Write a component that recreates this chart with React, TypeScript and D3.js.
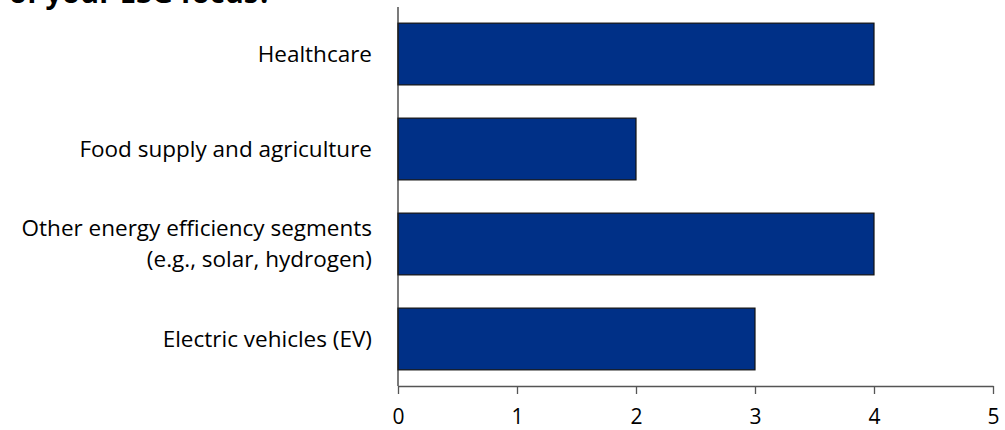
import React, { useEffect, useRef } from 'react'
import * as d3 from 'd3'

const categories = [
  'Healthcare',
  'Food supply and agriculture',
  'Other energy efficiency segments|(e.g., solar, hydrogen)',
  'Electric vehicles (EV)',
]
const values = [4, 2, 4, 3]
const xTicks = [0, 1, 2, 3, 4, 5]
const title = 'of your ESG focus?'

export default function App() {
  const svgRef = useRef<SVGSVGElement>(null)
  const width = 1005
  const height = 430

  useEffect(() => {
    if (!svgRef.current) return
    const root = d3.select(svgRef.current)
    root.selectAll('*').remove()

    const font = "'Open Sans', Lato, sans-serif"

    // Cut-off title at the top
    root
      .append('text')
      .attr('x', 272)
      .attr('y', 3)
      .attr('text-anchor', 'end')
      .style('font-family', font)
      .style('font-weight', 'bold')
      .style('font-size', '29px')
      .attr('fill', '#000')
      .text(title)

    const x = d3.scaleLinear().domain([0, 5]).range([398, 993])
    const y = d3
      .scaleBand()
      .domain(categories)
      .range([7, 386])
      .paddingInner(0.35)
      .paddingOuter(0.17)

    // Bars
    root
      .selectAll('.bar')
      .data(categories)
      .join('rect')
      .attr('class', 'bar')
      .attr('x', x(0))
      .attr('y', (d) => y(d) || 0)
      .attr('width', (_, i) => x(values[i]) - x(0))
      .attr('height', y.bandwidth())
      .attr('fill', '#003087')
      .attr('stroke', '#111')
      .attr('stroke-width', 1.2)

    // Y axis line
    root
      .append('line')
      .attr('x1', x(0))
      .attr('x2', x(0))
      .attr('y1', 7)
      .attr('y2', 386)
      .attr('stroke', '#222')
      .attr('stroke-width', 1.2)

    // X axis
    const xAxis = root
      .append('g')
      .attr('transform', 'translate(0,386)')
      .call(d3.axisBottom(x).tickValues(xTicks).tickSize(8).tickSizeOuter(0).tickFormat(d3.format('d')))
    xAxis.select('.domain').attr('stroke', '#555').attr('stroke-width', 1.3)
    xAxis.selectAll('.tick line').attr('stroke', '#555').attr('stroke-width', 1.3).attr('y1', 0)
    xAxis
      .selectAll('.tick text')
      .attr('y', 31)
      .attr('dy', '0.35em')
      .style('font-family', font)
      .style('font-size', '21px')
      .attr('fill', '#000')

    // Category labels
    categories.forEach((c) => {
      const lines = c.split('|')
      const cy = (y(c) || 0) + y.bandwidth() / 2
      const lh = 31
      lines.forEach((ln, j) => {
        root
          .append('text')
          .attr('x', 372)
          .attr('y', cy + (j - (lines.length - 1) / 2) * lh)
          .attr('dy', '0.35em')
          .attr('text-anchor', 'end')
          .style('font-family', font)
          .style('font-size', '22.5px')
          .attr('fill', '#000')
          .text(ln)
      })
    })
  }, [])

  return (
    <div style={{ position: 'absolute', left: 0, top: 0 }}>
      <svg ref={svgRef} width={width} height={height} style={{ display: 'block' }}></svg>
    </div>
  )
}
